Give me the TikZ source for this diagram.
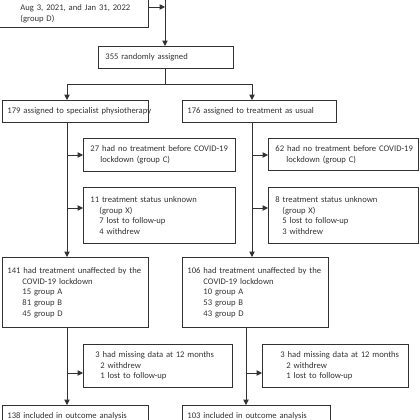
\documentclass[tikz,border=0pt]{standalone}
\usepackage{fontspec}
\setmainfont{Carlito}
\usetikzlibrary{arrows.meta}
\definecolor{flowgray}{RGB}{50,50,50}
\newlength{\pxl}
\setlength{\pxl}{0.03cm}
\newcommand{\indt}[1]{\hspace*{#1\pxl}}

\begin{document}
\begin{tikzpicture}[
  x=0.03cm, y=-0.03cm,
  box/.style={rectangle, draw=flowgray, line width=0.75pt, anchor=north west,
    align=left, inner ysep=0pt, text=flowgray, font=\fontsize{7.35}{9.1}\selectfont,
    execute at begin node={\rightskip=0pt plus 1fil minus 60pt}},
  boxw/.style 2 args={minimum width=#1*\pxl, text width=(#1-2*#2)*\pxl, inner xsep=#2*\pxl},
  boxh/.style={minimum height=#1*\pxl},
  arrow/.style={-{Triangle[length=1.6mm, width=1.6mm]}, line width=0.75pt, flowgray},
]
\useasboundingbox (0,0) rectangle (420,420);
\clip (0,0) rectangle (420,420);

% Enrolment
\node[box, boxw={158}{30}, anchor=south west, inner ysep=5\pxl, text height=40\pxl] (topbox) at (-10,28)
  {Aug 3, 2021, and Jan 31, 2022\\(group D)};
\node[box, boxw={135}{7}, boxh=22] (rand) at (98,46) {355 randomly assigned};

% Allocation
\node[box, boxw={146}{5}, boxh=22] (phys) at (2,100) {179 assigned to specialist physiotherapy};
\node[box, boxw={154}{5}, boxh=22] (tau) at (182,100) {176 assigned to treatment as usual};

% Exclusions
\node[box, boxw={152}{7}, boxh=33] (noCL) at (83,138)
  {27 had no treatment before COVID-19\\\indt{10}lockdown (group C)};
\node[box, boxw={152}{7}, boxh=56] (unkXL) at (83,187)
  {11 treatment status unknown\\\indt{9}(group X)\\\indt{9}7 lost to follow-up\\\indt{9}4 withdrew};
\node[box, boxw={150}{7}, boxh=32] (noCR) at (268,138)
  {62 had no treatment before COVID-19\\\indt{11}lockdown (group C)};
\node[box, boxw={150}{7}, boxh=56] (unkXR) at (268,187)
  {8 treatment status unknown\\\indt{7}(group X)\\\indt{7}5 lost to follow-up\\\indt{7}3 withdrew};

% Unaffected groups
\node[box, boxw={146}{5}, boxh=70] (unaffL) at (2,257)
  {141 had treatment unaffected by the\\\indt{15}COVID-19 lockdown\\\indt{15}15 group A\\\indt{15}81 group B\\\indt{15}45 group D};
\node[box, boxw={146}{5}, boxh=70] (unaffR) at (182,257)
  {106 had treatment unaffected by the\\\indt{16}COVID-19 lockdown\\\indt{16}10 group A\\\indt{16}53 group B\\\indt{16}43 group D};

% Follow-up
\node[box, boxw={149}{12}, boxh=43] (missL) at (83,344)
  {3 had missing data at 12 months\\\indt{5}2 withdrew\\\indt{5}1 lost to follow-up};
\node[box, boxw={146}{18}, boxh=43] (missR) at (262,344)
  {3 had missing data at 12 months\\\indt{6}2 withdrew\\\indt{6}1 lost to follow-up};

% Analysis
\node[box, boxw={146}{5}, boxh=22] (inclL) at (2,405) {138 included in outcome analysis};
\node[box, boxw={148}{5}, boxh=22] (inclR) at (182,405) {103 included in outcome analysis};

% Arrows
\coordinate (feed) at (165,-20);
\coordinate (joinD) at (165,7);
\coordinate (lcol) at (67,0);
\coordinate (rcol) at (252,0);
\coordinate (rcolb) at (246,0);

\draw[arrow] (feed) -- (rand.north -| feed);
\draw[arrow] (topbox.east |- joinD) -- (joinD);
\draw[arrow] (rand.south -| feed) -- ++(0,16) -| (phys.north -| lcol);
\draw[arrow] (rand.south -| feed) -- ++(0,16) -| (tau.north -| rcol);
\draw[arrow] (phys.south -| lcol) -- (unaffL.north -| lcol);
\draw[arrow] (tau.south -| rcol) -- (unaffR.north -| rcol);
\draw[arrow] (unaffL.south -| lcol) -- (inclL.north -| lcol);
\draw[arrow] (unaffR.south -| rcolb) -- (inclR.north -| rcolb);

\foreach \c/\t/\y in {lcol/noCL/155, lcol/unkXL/208, rcol/noCR/155,
    rcol/unkXR/208, lcol/missL/373, rcolb/missR/373} {
  \draw[arrow] (\c |- 0,\y) -- (\t.west |- 0,\y);
}

\end{tikzpicture}
\end{document}
